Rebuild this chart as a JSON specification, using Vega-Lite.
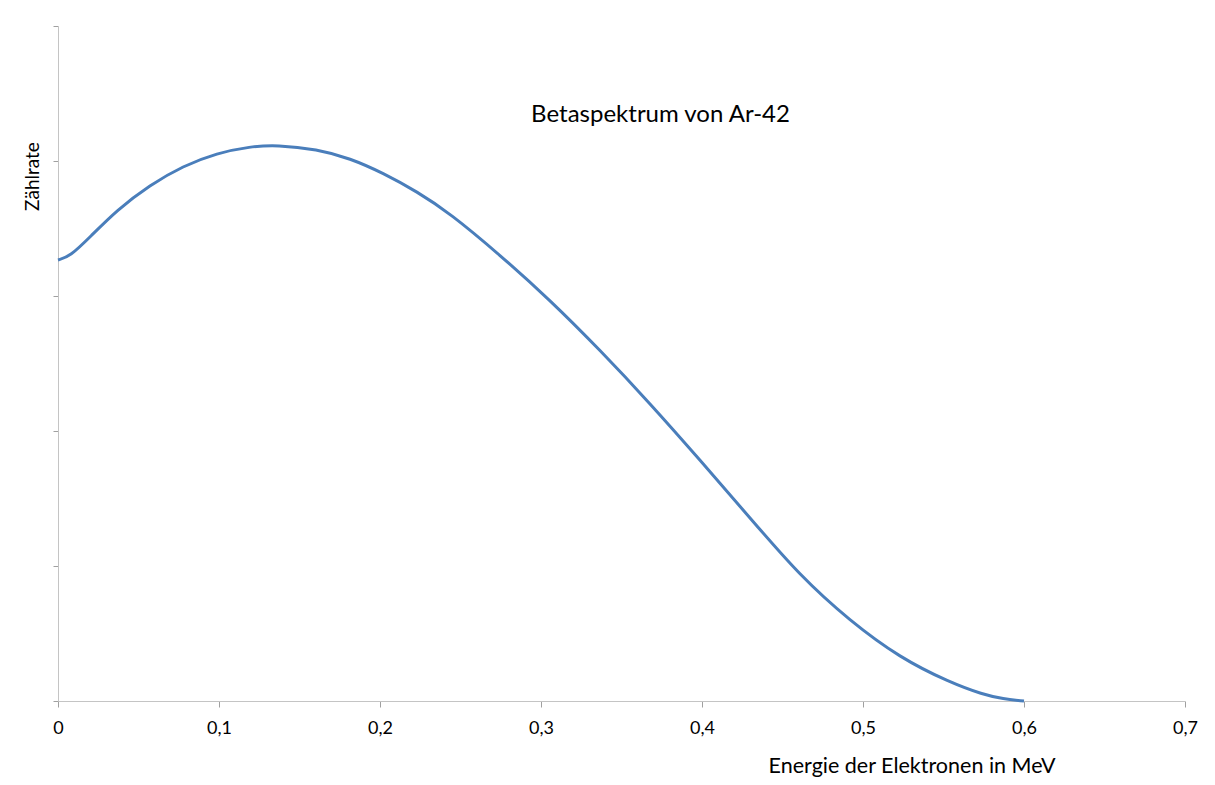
{
  "$schema": "https://vega.github.io/schema/vega-lite/v6.json",
  "width": 1127,
  "height": 675,
  "autosize": {"type": "none"},
  "padding": {"left": 58, "top": 26, "right": 30, "bottom": 84},
  "background": "white",
  "title": {
    "text": "Betaspektrum von Ar-42",
    "anchor": "middle",
    "frame": "group",
    "orient": "top",
    "offset": 0,
    "dx": 39,
    "dy": 120,
    "baseline": "alphabetic",
    "font": "Lato",
    "fontSize": 24,
    "fontWeight": "normal",
    "color": "#000000"
  },
  "data": {
    "values": [
      {"E": 0.0, "R": 3.267},
      {"E": 0.0075, "R": 3.293},
      {"E": 0.0199, "R": 3.437},
      {"E": 0.0366, "R": 3.637},
      {"E": 0.0571, "R": 3.822},
      {"E": 0.0776, "R": 3.963},
      {"E": 0.0988, "R": 4.059},
      {"E": 0.1193, "R": 4.107},
      {"E": 0.136, "R": 4.119},
      {"E": 0.1609, "R": 4.087},
      {"E": 0.1814, "R": 4.02},
      {"E": 0.2019, "R": 3.911},
      {"E": 0.223, "R": 3.773},
      {"E": 0.2435, "R": 3.613},
      {"E": 0.2745, "R": 3.304},
      {"E": 0.3056, "R": 2.97},
      {"E": 0.3366, "R": 2.6},
      {"E": 0.3677, "R": 2.205},
      {"E": 0.3988, "R": 1.785},
      {"E": 0.4298, "R": 1.356},
      {"E": 0.4609, "R": 0.926},
      {"E": 0.4919, "R": 0.593},
      {"E": 0.523, "R": 0.319},
      {"E": 0.554, "R": 0.137},
      {"E": 0.5745, "R": 0.048},
      {"E": 0.587, "R": 0.015},
      {"E": 0.6, "R": 0.0}
    ]
  },
  "mark": {"type": "line", "color": "#4a7ebb", "strokeWidth": 3, "interpolate": "basis"},
  "encoding": {
    "x": {
      "field": "E",
      "type": "quantitative",
      "scale": {"domain": [0, 0.7], "nice": false, "zero": false},
      "axis": {
        "values": [0, 0.1, 0.2, 0.3, 0.4, 0.5, 0.6, 0.7],
        "labelExpr": "datum.value == 0 ? '0' : replace(format(datum.value, '.1f'), '.', ',')",
        "title": "Energie der Elektronen in MeV",
        "titleX": 997,
        "titleY": 71,
        "titleAlign": "right",
        "titleBaseline": "alphabetic",
        "titleFont": "Lato",
        "titleFontSize": 21.5,
        "titleFontWeight": "normal",
        "titleColor": "#000000",
        "labelFont": "Lato",
        "labelFontSize": 18,
        "labelColor": "#000000",
        "labelBaseline": "alphabetic",
        "labelPadding": 26,
        "labelFlush": false,
        "tickSize": 6,
        "tickColor": "#a0a0a0",
        "domainColor": "#c4c4c4",
        "grid": false
      }
    },
    "y": {
      "field": "R",
      "type": "quantitative",
      "scale": {"domain": [0, 5], "nice": false},
      "axis": {
        "values": [0, 1, 2, 3, 4, 5],
        "labels": false,
        "title": "Zählrate",
        "titleX": -26,
        "titleY": 150,
        "titleAngle": 270,
        "titleAlign": "center",
        "titleBaseline": "middle",
        "titleFont": "Lato",
        "titleFontSize": 19,
        "titleFontWeight": "normal",
        "titleColor": "#000000",
        "tickSize": 5,
        "tickColor": "#a0a0a0",
        "domainColor": "#c4c4c4",
        "grid": false
      }
    }
  },
  "config": {"view": {"stroke": null}}
}
